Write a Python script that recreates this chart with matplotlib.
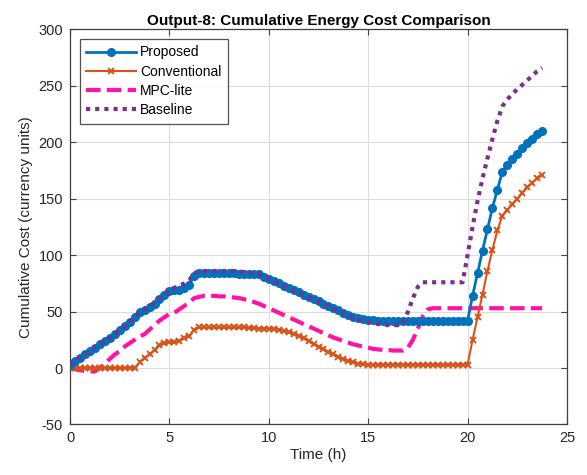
import numpy as np
import matplotlib
matplotlib.use("Agg")
import matplotlib.pyplot as plt

plt.rcParams['font.family'] = ['Liberation Sans', 'DejaVu Sans']
plt.rcParams['axes.unicode_minus'] = False

# time axis (h), 15-min steps
time_h = np.arange(96) * 0.25

proposed = [
    3, 6, 9, 12, 15, 18, 21, 24, 27, 30, 34, 37, 41, 45, 50, 51,
    54, 57, 61, 65, 68, 69, 69, 71, 74, 82, 84, 84, 84, 84, 84, 84,
    84, 84, 83.5, 83.5, 83, 83, 83, 81, 79, 77, 75, 73, 71, 69, 67, 65,
    63, 61, 59, 57, 55, 53, 51, 49, 47, 45.5, 44.5, 43.5, 43, 42.5, 42, 42,
    42, 42, 42, 42, 42, 42, 42, 42, 42, 42, 42, 42, 42, 42, 42, 42,
    42, 64, 84, 104, 123, 142, 158, 174, 180, 185, 190, 195, 199, 203, 207, 210,
]

conventional = [
    0, 0, 0, 0, 0, 0, 0, 0, 0, 0, 0, 0, 0, 0, 5, 9,
    12, 16, 20, 22, 23, 23, 24, 27, 28, 34, 36, 36, 36, 36, 36, 36,
    36, 36, 36, 36, 35.5, 35.5, 35, 35, 35, 34.5, 34, 33, 32, 30.5, 28.5, 26.5,
    24, 21.5, 19, 16.5, 14, 12, 10, 8, 6.5, 5, 4, 3.5, 3, 3, 3, 3,
    3, 3, 3, 3, 3, 3, 3, 3, 3, 3, 3, 3, 3, 3, 3, 3,
    3, 25, 45, 65, 86, 105, 122, 135, 140, 145, 150, 155, 160, 164, 168, 171,
]

mpc_lite = [
    0, -1, -2, -2.5, -3, -3, 0, 4, 8, 12, 15, 19, 22, 25, 28, 30,
    34, 38, 42, 45, 48, 49, 52, 55, 58, 62, 63, 64, 64, 64, 63.5, 63.5,
    63, 62.5, 62, 61, 60, 58.5, 57, 55, 53, 51, 49, 47, 45, 43, 41, 39,
    37, 35, 33, 31, 29, 27, 25.5, 24, 22.5, 21, 20, 19, 18, 17, 16.5, 16,
    16, 15.5, 15.5, 15.5, 18, 25, 35, 46, 52, 53, 53, 53, 53, 53, 53, 53,
    53, 53, 53, 53, 53, 53, 53, 53, 53, 53, 53, 53, 53, 53, 53, 53,
]

baseline = [
    3, 6, 9, 12, 15, 18, 21, 24, 27, 30, 34, 37, 41, 45, 50, 52,
    55, 58, 62, 66, 69, 71, 73, 75, 78, 84, 86, 86, 86, 86, 86, 86,
    86, 86, 85.5, 85, 84.5, 84, 83, 81, 79, 77, 74.5, 72.5, 70.5, 68.5, 66.5, 64.5,
    62.5, 60.5, 58.5, 56.5, 54.5, 52.5, 50.5, 48.5, 46.5, 44.5, 43, 42, 41, 40, 39, 38.5,
    38, 38, 38, 40, 50, 62, 72, 76, 76, 76, 76, 76, 76, 76, 76, 76,
    100, 125, 148, 168, 186, 203, 219, 232, 238, 243, 247, 251, 255, 259, 263, 266,
]

fig = plt.figure(figsize=(5.87, 4.75), dpi=100)
ax = fig.add_axes([0.1193, 0.1064, 0.8466, 0.8315])

ax.plot(time_h, proposed, color='#0072BD', lw=2, marker='o', ms=5.5, label='Proposed', zorder=4)
ax.plot(time_h, conventional, color='#D95319', lw=1.5, marker='x', ms=5, mew=1.4, label='Conventional', zorder=3)
ax.plot(time_h, mpc_lite, color='#FF12A6', lw=3, ls=(0, (3.5, 1.5)), label='MPC-lite', zorder=2)
ax.plot(time_h, baseline, color='#7E2F8E', lw=3, ls=(0, (1, 1.2)), label='Baseline', zorder=5)

ax.set_xlim(0, 25)
ax.set_ylim(-50, 300)
ax.set_xticks([0, 5, 10, 15, 20, 25])
ax.set_yticks([-50, 0, 50, 100, 150, 200, 250, 300])
ax.grid(True, color='#DCDCDC', lw=0.8)
ax.set_axisbelow(True)
for s in ax.spines.values():
    s.set_color('#404040')
    s.set_linewidth(0.9)
ax.tick_params(direction='in', top=True, right=True, length=4, width=0.8,
               color='#404040', labelcolor='#262626', labelsize=10.5, pad=5)
ax.set_xlabel('Time (h)', fontsize=11, color='#262626', labelpad=2)
ax.set_ylabel('Cumulative Cost (currency units)', fontsize=11, color='#262626', labelpad=4)
ax.set_title('Output-8: Cumulative Energy Cost Comparison', fontsize=11,
             fontweight='bold', pad=3)

leg = ax.legend(loc='upper left', fontsize=10, frameon=True, fancybox=False,
                borderaxespad=0.7, handlelength=3.6, handletextpad=0.3,
                labelspacing=0.38, borderpad=0.45)
leg.get_frame().set_edgecolor('#262626')
leg.get_frame().set_linewidth(0.9)

fig.savefig('out.png', dpi=100)
